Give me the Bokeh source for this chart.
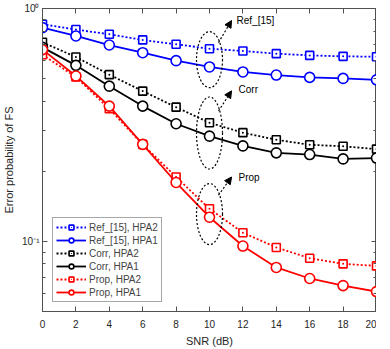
from bokeh.plotting import figure
from bokeh.models import (LogAxis, LinearAxis, Legend, LegendItem, CustomJSTickFormatter,
                          FixedTicker, Arrow, NormalHead, Label, Range1d)
from bokeh.embed import file_html
from bokeh.resources import INLINE

snr = [0, 2, 4, 6, 8, 10, 12, 14, 16, 18, 20]
ref_hpa2 = [0.856, 0.812, 0.775, 0.733, 0.702, 0.672, 0.657, 0.640, 0.629, 0.623, 0.621]
ref_hpa1 = [0.828, 0.762, 0.697, 0.646, 0.597, 0.561, 0.534, 0.518, 0.506, 0.501, 0.494]
corr_hpa2 = [0.716, 0.619, 0.520, 0.442, 0.377, 0.323, 0.293, 0.273, 0.260, 0.256, 0.249]
corr_hpa1 = [0.681, 0.570, 0.464, 0.381, 0.320, 0.283, 0.257, 0.240, 0.236, 0.226, 0.228]
prop_hpa2 = [0.633, 0.508, 0.371, 0.261, 0.189, 0.138, 0.109, 0.0942, 0.0847, 0.0801, 0.0785]
prop_hpa1 = [0.666, 0.513, 0.381, 0.261, 0.179, 0.127, 0.0955, 0.0773, 0.0693, 0.0646, 0.0609]
y_major = [0.1, 1.0]
y_minor = [0.05, 0.06, 0.07, 0.08, 0.09, 0.2, 0.3, 0.4, 0.5, 0.6, 0.7, 0.8, 0.9]

FONT = "Liberation Sans"
AX = "#505050"

p = figure(frame_width=334, frame_height=303, y_axis_type="log",
           x_range=Range1d(0, 20), y_range=Range1d(0.05, 1.0),
           output_backend="svg", toolbar_location=None,
           min_border_left=38, min_border_right=0, min_border_top=8, min_border_bottom=28)
p.xgrid.visible = False
p.ygrid.visible = False
p.outline_line_color = AX
p.outline_line_width = 1

p.xaxis.ticker = FixedTicker(ticks=snr)
p.yaxis.ticker = FixedTicker(ticks=y_major, minor_ticks=y_minor)
p.xaxis.axis_label = "SNR (dB)"
p.yaxis.axis_label = "Error probability of FS"
for ax in [p.xaxis[0], p.yaxis[0]]:
    ax.axis_label_text_font = FONT
    ax.axis_label_text_font_style = "normal"
    ax.axis_label_text_font_size = "11px"
    ax.major_label_text_font = FONT
    ax.major_label_text_font_size = "10px"
    ax.major_tick_in = 5
    ax.major_tick_out = 0
    ax.minor_tick_in = 3
    ax.minor_tick_out = 0
    ax.axis_line_color = AX
    ax.major_tick_line_color = AX
    ax.minor_tick_line_color = AX
    ax.major_label_text_color = "#262626"
    ax.axis_label_text_color = "#262626"
p.xaxis.axis_label_standoff = 4
p.yaxis.axis_label_standoff = 4
p.xaxis.major_label_standoff = 8
p.yaxis.major_label_standoff = 3
p.yaxis.formatter = CustomJSTickFormatter(code="""
const e = Math.round(Math.log10(tick));
const sup = {'0':'\u2070','1':'\u00b9','2':'\u00b2','3':'\u00b3','-':'\u207b'};
return '10' + String(e).split('').map(c => sup[c]).join('');
""")

top = LinearAxis(ticker=FixedTicker(ticks=snr), major_tick_in=5, major_tick_out=0,
                 major_label_text_font_size="0px", major_label_standoff=0,
                 axis_line_color=AX, major_tick_line_color=AX)
top.formatter = CustomJSTickFormatter(code="return '';")
p.add_layout(top, "above")
right = LogAxis(ticker=FixedTicker(ticks=y_major, minor_ticks=y_minor),
                major_tick_in=5, major_tick_out=0, minor_tick_in=3, minor_tick_out=0,
                major_label_text_font_size="0px", major_label_standoff=0,
                axis_line_color=AX, major_tick_line_color=AX, minor_tick_line_color=AX)
right.formatter = CustomJSTickFormatter(code="return '';")
p.add_layout(right, "right")

series = [
    ("Ref_[15], HPA2", ref_hpa2, "#0000FF", "2 2", "square_dot"),
    ("Ref_[15], HPA1", ref_hpa1, "#0000FF", "solid", "circle"),
    ("Corr, HPA2", corr_hpa2, "black", "2 2", "square_dot"),
    ("Corr, HPA1", corr_hpa1, "black", "solid", "circle"),
    ("Prop, HPA2", prop_hpa2, "#FF0000", "2 2", "square_dot"),
    ("Prop, HPA1", prop_hpa1, "#FF0000", "solid", "circle"),
]
items = []
for label, ys, col, dash, mk in series:
    r1 = p.line(snr, ys, line_color=col, line_width=1.8, line_dash=dash)
    size = 8 if mk == "square_dot" else 10
    r2 = p.scatter(snr, ys, marker=mk, size=size, line_color=col, line_width=1.6,
                   fill_color="white")
    items.append(LegendItem(label=label, renderers=[r1, r2]))

leg = Legend(items=items, location=(10, 9), label_text_font=FONT,
             label_text_font_size="10px", label_height=12, glyph_height=12,
             glyph_width=30, spacing=1, padding=3, margin=0,
             border_line_color=AX, border_line_width=1, label_standoff=3,
             background_fill_alpha=1)
p.add_layout(leg, "center")

# group annotations
ell_x = 10
ell_y = [0.603, 0.292, 0.131]
ell_h = [56, 72, 61]
p.ellipse(x=[ell_x] * 3, y=ell_y, width=26, height=ell_h, width_units="screen",
          height_units="screen", fill_alpha=0, line_color="black", line_width=1.2,
          line_dash="2 2")

arrows = [((10.54, 0.714), (11.32, 0.888)),
          ((10.54, 0.363), (11.32, 0.443)),
          ((10.54, 0.158), (11.32, 0.189))]
for (x0, y0), (x1, y1) in arrows:
    p.add_layout(Arrow(x_start=x0, y_start=y0, x_end=x1, y_end=y1,
                       line_dash="2 2", line_width=1.2, line_color="black",
                       end=NormalHead(size=7, fill_color="black", line_color="black")))

for txt, tx, ty in [("Ref_[15]", 11.62, 0.888), ("Corr", 11.74, 0.448), ("Prop", 11.74, 0.189)]:
    p.add_layout(Label(x=tx, y=ty, text=txt, text_font=FONT, text_font_size="10px",
                       text_baseline="middle", text_color="black"))

open("out.html", "w").write(file_html(p, INLINE))
